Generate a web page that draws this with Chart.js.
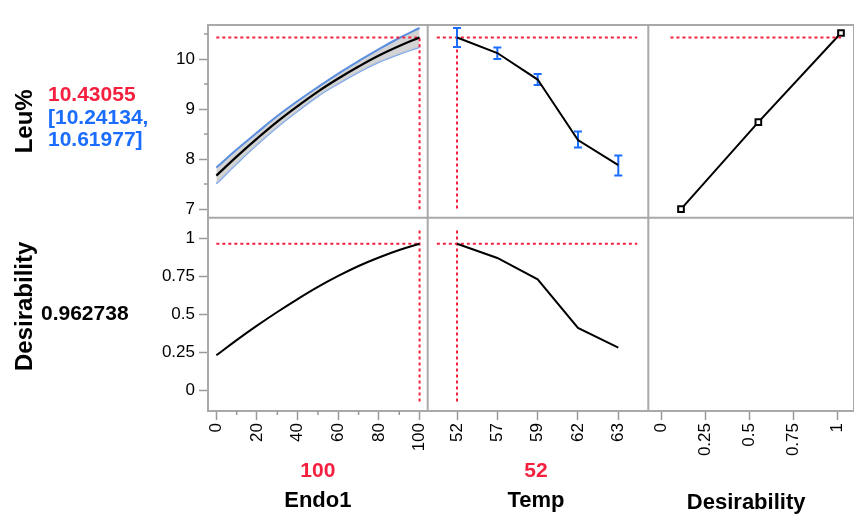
<!DOCTYPE html>
<html>
<head>
<meta charset="utf-8">
<script src="https://cdn.jsdelivr.net/npm/chart.js@4.4.1/dist/chart.umd.min.js"></script>
<style>
  html, body { margin: 0; padding: 0; background: #fff; }
  #wrap { width: 854px; height: 515px; }
</style>
</head>
<body>
<div id="wrap"><canvas id="profiler" width="854" height="515"></canvas></div>
<script>
// current factor settings and predictions
const currentEndo1 = 100;
const currentTemp = '52';
const leuPred = 10.43055;
const leuCI = [10.24134, 10.61977];
const desirability = 0.962738;

// Endo1 profile
const endo1Grid = [0, 10, 20, 30, 40, 50, 60, 70, 80, 90, 100];
const leuByEndo1 = [7.67, 8.05, 8.41, 8.75, 9.06, 9.35, 9.61, 9.85, 10.07, 10.26, 10.43];
const leuByEndo1Lo = [7.51, 7.91, 8.29, 8.64, 8.96, 9.26, 9.51, 9.74, 9.94, 10.10, 10.24];
const leuByEndo1Hi = [7.83, 8.19, 8.53, 8.86, 9.16, 9.44, 9.71, 9.96, 10.20, 10.42, 10.62];
const desByEndo1 = [0.23, 0.33, 0.425, 0.515, 0.60, 0.68, 0.752, 0.817, 0.873, 0.922, 0.963];

// Temp profile (categorical levels)
const tempLevels = ['52', '57', '59', '62', '63'];
const leuByTemp = [10.43, 10.12, 9.59, 8.38, 7.88];
const leuByTempLo = [10.24, 10.00, 9.48, 8.23, 7.67];
const leuByTempHi = [10.62, 10.23, 9.70, 8.55, 8.07];
const desByTemp = [0.963, 0.87, 0.73, 0.41, 0.28];

// desirability function for Leu%
const desFnLeu = [7.0, 8.74, 10.52];
const desFnValue = [0.11, 0.55, 1.02];

// tick labels
const endo1Ticks = [0, 20, 40, 60, 80, 100];
const endo1Minor = [10, 30, 50, 70, 90];
const leuTicks = [7, 8, 9, 10];
const leuMinor = [7.5, 8.5, 9.5, 10.5];
const desTicks = [0, 0.25, 0.5, 0.75, 1];

const RED = '#f5203f';
const BLUE = '#1a6dff';
const FRAME = '#a9a9a9';
const FONT = "'Liberation Sans', Arial, sans-serif";

const tempIdx = tempLevels.indexOf(currentTemp);
const xy = (xs, ys) => xs.map((x, i) => ({ x: x, y: ys[i] }));
const tempXY = ys => ys.map((y, i) => ({ x: i, y: y }));

// error bars as one broken line, caps from the point style
const errBars = [];
tempLevels.forEach((t, i) => {
    errBars.push({ x: i, y: leuByTempLo[i] }, { x: i, y: leuByTempHi[i] }, { x: i, y: null });
});

const redLine = (data, xAxisID, yAxisID) => ({
    type: 'line', data: data, xAxisID: xAxisID, yAxisID: yAxisID,
    borderColor: RED, borderWidth: 2, borderDash: [3, 3], pointRadius: 0, spanGaps: false, tension: 0
});

const datasets = [
    // Leu% vs Endo1 with confidence band (order 1 keeps the band under the other lines)
    { data: xy(endo1Grid, leuByEndo1Hi), xAxisID: 'xE', yAxisID: 'yL', borderColor: '#5b8fe0', borderWidth: 2,
      backgroundColor: 'rgba(205,205,205,0.85)', fill: '+1', pointRadius: 0, tension: 0.4, order: 1 },
    { data: xy(endo1Grid, leuByEndo1Lo), xAxisID: 'xE', yAxisID: 'yL', borderColor: '#7eaaf0', borderWidth: 2,
      pointRadius: 0, tension: 0.4, order: 1 },
    { data: xy(endo1Grid, leuByEndo1), xAxisID: 'xE', yAxisID: 'yL', borderColor: '#000', borderWidth: 2.2,
      pointRadius: 0, tension: 0.4 },
    redLine([{ x: 0, y: leuPred }, { x: currentEndo1, y: leuPred }, { x: currentEndo1, y: 6.98 }], 'xE', 'yL'),

    // Leu% vs Temp
    { data: tempXY(leuByTemp), xAxisID: 'xT', yAxisID: 'yL', borderColor: '#000', borderWidth: 2,
      pointRadius: 0, tension: 0 },
    { data: errBars, xAxisID: 'xT', yAxisID: 'yL', borderColor: BLUE, borderWidth: 2, spanGaps: false,
      pointStyle: 'line', pointRadius: 4, pointBorderColor: BLUE, pointBorderWidth: 2, tension: 0 },
    redLine([{ x: -0.5, y: leuPred }, { x: 4.47, y: leuPred }, { x: tempIdx, y: null },
             { x: tempIdx, y: leuPred }, { x: tempIdx, y: 6.98 }], 'xT', 'yL'),

    // desirability function
    redLine([{ x: 0.05, y: leuPred }, { x: 1.02, y: leuPred }], 'xD', 'yL'),
    { data: xy(desFnValue, desFnLeu), xAxisID: 'xD', yAxisID: 'yL', borderColor: '#000', borderWidth: 2,
      pointStyle: 'rect', pointRadius: 4, pointBackgroundColor: '#fff', pointBorderColor: '#000',
      pointBorderWidth: 2, tension: 0 },

    // desirability vs Endo1 / Temp
    { data: xy(endo1Grid, desByEndo1), xAxisID: 'xE', yAxisID: 'yD', borderColor: '#000', borderWidth: 2,
      pointRadius: 0, tension: 0.4 },
    redLine([{ x: 0, y: desirability }, { x: currentEndo1, y: desirability }, { x: currentEndo1, y: null },
             { x: currentEndo1, y: 1.05 }, { x: currentEndo1, y: -0.086 }], 'xE', 'yD'),
    { data: tempXY(desByTemp), xAxisID: 'xT', yAxisID: 'yD', borderColor: '#000', borderWidth: 2,
      pointRadius: 0, tension: 0 },
    redLine([{ x: -0.5, y: desirability }, { x: 4.47, y: desirability }, { x: tempIdx, y: null },
             { x: tempIdx, y: 1.05 }, { x: tempIdx, y: -0.086 }], 'xT', 'yD')
];

const tickFont = { family: FONT, size: 17 };
const grid = { drawOnChartArea: false, drawTicks: true, tickLength: 9, tickColor: '#999', tickWidth: 1.5 };
const setTicks = vals => s => { s.ticks = vals.map(v => ({ value: v })); };
// fixed axis size and no label padding, so the panels sit where JMP put them
const fixSize = (key, size) => s => {
    s[key] = size;
    s.paddingLeft = s.paddingRight = s.paddingTop = s.paddingBottom = 0;
};

const xAxis = (weight, stackWeight, min, max, vals, cb) => ({
    type: 'linear', position: 'bottom', stack: 'cols', stackWeight: stackWeight, weight: weight,
    min: min, max: max, afterBuildTicks: setTicks(vals), afterFit: fixSize('height', 60),
    ticks: { minRotation: 90, maxRotation: 90, autoSkip: false, font: tickFont, color: '#000', padding: 3,
             callback: cb || (v => String(v)) },
    grid: grid, border: { display: false }
});
const yAxis = (weight, stackWeight, min, max, vals) => ({
    type: 'linear', position: 'left', stack: 'rows', stackWeight: stackWeight, weight: weight,
    min: min, max: max, afterBuildTicks: setTicks(vals), afterFit: fixSize('width', 48),
    ticks: { autoSkip: false, font: tickFont, color: '#000', padding: 4, callback: v => String(v) },
    grid: grid, border: { display: false }
});

// frame, minor ticks and the JMP side/bottom labels
const profilerFrame = {
    id: 'profilerFrame',
    afterDraw(chart) {
        const { ctx, chartArea: a, scales: s } = chart;
        ctx.save();
        ctx.strokeStyle = FRAME;
        ctx.lineWidth = 2;
        ctx.strokeRect(a.left, a.top, a.right - a.left, a.bottom - a.top);
        ctx.beginPath();
        ctx.moveTo(s.xE.right, a.top); ctx.lineTo(s.xE.right, a.bottom);
        ctx.moveTo(s.xT.right, a.top); ctx.lineTo(s.xT.right, a.bottom);
        ctx.moveTo(a.left, s.yL.bottom); ctx.lineTo(a.right, s.yL.bottom);
        ctx.stroke();

        ctx.strokeStyle = '#999';
        ctx.lineWidth = 1.5;
        ctx.beginPath();
        endo1Minor.forEach(v => {
            const px = s.xE.getPixelForValue(v);
            ctx.moveTo(px, a.bottom); ctx.lineTo(px, a.bottom + 4);
        });
        leuMinor.forEach(v => {
            const py = s.yL.getPixelForValue(v);
            ctx.moveTo(a.left - 4, py); ctx.lineTo(a.left, py);
        });
        ctx.stroke();

        ctx.textBaseline = 'middle';
        // rotated response names
        ctx.fillStyle = '#000';
        ctx.font = 'bold 24px ' + FONT;
        ctx.textAlign = 'center';
        [['Leu%', s.yL, 0], ['Desirability', s.yD, -8]].forEach(([txt, sc, dy]) => {
            ctx.save();
            ctx.translate(25, (sc.top + sc.bottom) / 2 + dy);
            ctx.rotate(-Math.PI / 2);
            ctx.fillText(txt, 0, 0);
            ctx.restore();
        });

        ctx.font = 'bold 21px ' + FONT;
        ctx.textAlign = 'left';
        ctx.fillStyle = RED;
        ctx.fillText(leuPred.toFixed(5), 48, 95);
        ctx.fillStyle = BLUE;
        ctx.fillText('[' + leuCI[0].toFixed(5) + ',', 48, 118);
        ctx.fillText(leuCI[1].toFixed(5) + ']', 48, 140);
        ctx.fillStyle = '#000';
        ctx.fillText(String(desirability), 41, 314);

        // factor settings and names under the axes
        ctx.textAlign = 'center';
        ctx.fillStyle = RED;
        ctx.fillText(String(currentEndo1), (s.xE.left + s.xE.right) / 2, 471);
        ctx.fillText(currentTemp, (s.xT.left + s.xT.right) / 2 - 2, 471);
        ctx.fillStyle = '#000';
        ctx.font = 'bold 22px ' + FONT;
        ctx.fillText('Endo1', (s.xE.left + s.xE.right) / 2, 501);
        ctx.fillText('Temp', (s.xT.left + s.xT.right) / 2 - 2, 501);
        ctx.fillText('Desirability', (s.xD.left + s.xD.right) / 2 - 5, 503);
        ctx.restore();
    }
};

new Chart(document.getElementById('profiler').getContext('2d'), {
    type: 'line',
    data: { datasets: datasets },
    options: {
        responsive: false,
        animation: false,
        events: [],
        layout: { autoPadding: false, padding: { left: 160, top: 25, right: 0, bottom: 44 } },
        plugins: { legend: { display: false }, tooltip: { enabled: false } },
        scales: {
            xE: xAxis(0, 219.7, -4.1, 104, endo1Ticks),
            xT: xAxis(1, 220.6, -0.727, 4.744, tempLevels.map((t, i) => i), v => tempLevels[v]),
            xD: xAxis(2, 205.7, -0.076, 1.094, desTicks),
            yL: yAxis(1, 192.5, 6.83, 10.68, leuTicks),
            yD: yAxis(0, 193.2, -0.136, 1.135, desTicks)
        }
    },
    plugins: [profilerFrame]
});
</script>
</body>
</html>
